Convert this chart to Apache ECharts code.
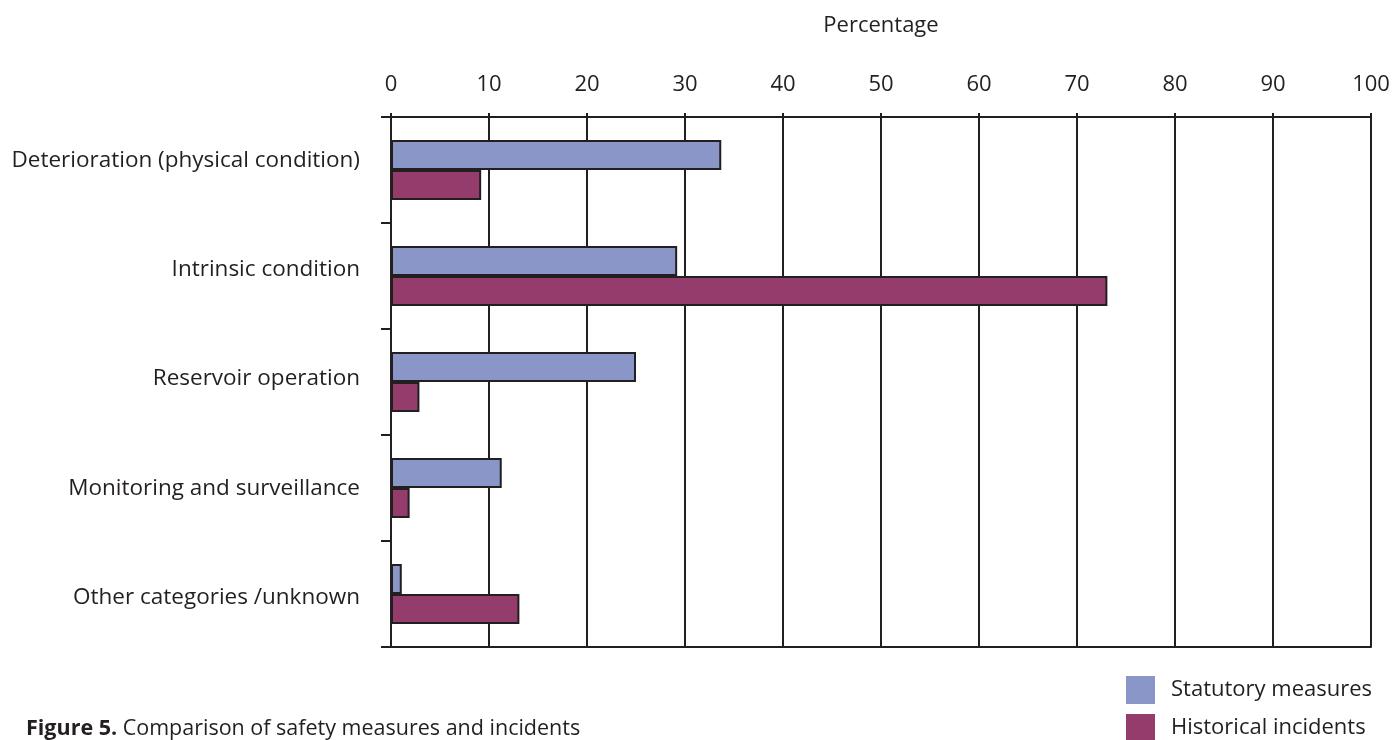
<!DOCTYPE html>
<html>
<head>
<meta charset="utf-8">
<script src="https://cdn.jsdelivr.net/npm/echarts@6/dist/echarts.min.js"></script>
<style>
  html, body { margin: 0; padding: 0; background: #ffffff; }
  #chart { width: 1396px; height: 740px; }
</style>
</head>
<body>
<div id="chart"></div>
<script>
// Safety measure categories, top to bottom
const categories = [
  'Deterioration (physical condition)',
  'Intrinsic condition',
  'Reservoir operation',
  'Monitoring and surveillance',
  'Other categories /unknown'
];
// Share of each category, in percent
const statutoryMeasures = [33.7, 29.2, 25.0, 11.3, 1.1];
const historicalIncidents = [9.2, 73.1, 2.9, 1.9, 13.1];
const seriesNames = ['Statutory measures', 'Historical incidents'];
const axisTitle = 'Percentage';
const captionBold = 'Figure 5.';
const captionText = ' Comparison of safety measures and incidents';

const INK = '#231f20';
const FONT = '"Open Sans", "Noto Sans", sans-serif';
const FS = 22;

// Category labels sit on a slightly wider pitch than the bands; nudge each one (px, + = down)
const labelNudge = [-9, -6, -3, 1, 4];
const labelRich = {};
labelNudge.forEach((d, i) => {
  labelRich['c' + i] = {
    fontSize: 22.5, color: INK, fontFamily: FONT,
    padding: d < 0 ? [0, 0, -2 * d, 0] : [2 * d, 0, 0, 0]
  };
});

const chart = echarts.init(document.getElementById('chart'), null, { renderer: 'canvas' });

const barStyle = (color) => ({ color: color, borderColor: INK, borderWidth: 2 });

chart.setOption({
  animation: false,
  backgroundColor: '#ffffff',
  textStyle: { fontFamily: FONT, color: INK },
  grid: { left: 391, top: 117, right: 25, bottom: 93, containLabel: false },
  xAxis: [
    {
      type: 'value',
      position: 'top',
      min: 0, max: 100, interval: 10,
      name: axisTitle,
      nameLocation: 'middle',
      nameGap: 80,
      nameTextStyle: { fontSize: FS, color: INK, fontFamily: FONT },
      axisLine: { show: true, lineStyle: { color: INK, width: 2 } },
      axisTick: { show: true, length: 4, lineStyle: { color: INK, width: 2 } },
      axisLabel: { fontSize: FS, color: INK, margin: 21, fontFamily: FONT },
      splitLine: { show: true, lineStyle: { color: INK, width: 2 } }
    },
    {
      type: 'value',
      position: 'bottom',
      min: 0, max: 100, interval: 10,
      axisLine: { show: true, onZero: false, lineStyle: { color: INK, width: 2 } },
      axisTick: { show: false },
      axisLabel: { show: false },
      splitLine: { show: false }
    }
  ],
  yAxis: {
    type: 'category',
    data: categories,
    inverse: true,
    axisLine: { show: true, lineStyle: { color: INK, width: 2 } },
    axisTick: { show: true, length: 10, lineStyle: { color: INK, width: 2 } },
    axisLabel: {
      fontSize: 22.5, color: INK, margin: 31, fontFamily: FONT,
      formatter: (value, index) => '{c' + index + '|' + value + '}',
      rich: labelRich
    },
    splitLine: { show: false }
  },
  legend: {
    orient: 'vertical',
    left: 1126,
    top: 676,
    height: 120,
    padding: 0,
    itemWidth: 29,
    itemHeight: 28,
    itemGap: 10,
    icon: 'rect',
    itemStyle: { borderWidth: 0 },
    textStyle: { fontSize: FS, color: INK, fontFamily: FONT, padding: [0, 0, 0, 11] },
    data: seriesNames
  },
  graphic: [
    {
      type: 'text',
      left: 26,
      top: 718,
      style: {
        text: '{b|' + captionBold + '}{n|' + captionText + '}',
        rich: {
          b: { fontSize: 21.5, fontWeight: 'bold', fill: INK, fontFamily: FONT },
          n: { fontSize: 21.5, fill: INK, fontFamily: FONT }
        }
      }
    }
  ],
  series: [
    {
      name: seriesNames[0],
      type: 'bar',
      xAxisIndex: 0,
      data: statutoryMeasures,
      barWidth: 30,
      barGap: '0%',
      itemStyle: barStyle('#8a95c8')
    },
    {
      name: seriesNames[1],
      type: 'bar',
      xAxisIndex: 0,
      data: historicalIncidents,
      barWidth: 30,
      barGap: '0%',
      itemStyle: barStyle('#943c6b')
    }
  ]
});
</script>
</body>
</html>
